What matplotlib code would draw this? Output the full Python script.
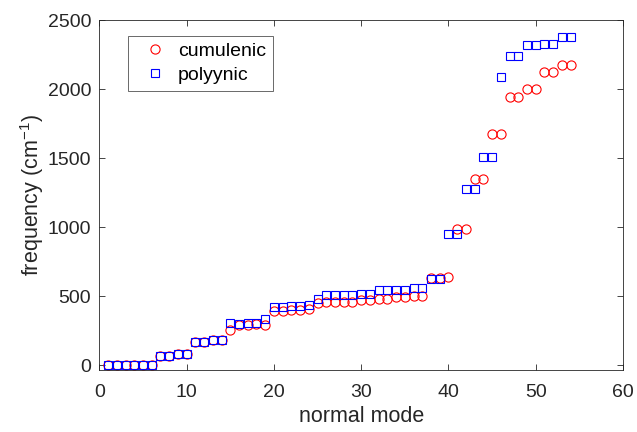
import matplotlib
matplotlib.use("Agg")
import matplotlib.pyplot as plt
import numpy as np

# normal mode index 1..54
modes = np.arange(1, 55)

cumulenic = [0, 0, 0, 0, 0, 0, 65, 65, 80, 80,
             167, 167, 184, 184, 255, 289, 293, 298, 292, 392,
             392, 397, 397, 409, 453, 458, 458, 460, 460, 470,
             470, 482, 482, 494, 494, 501, 501, 634, 634, 640,
             983, 983, 1347, 1347, 1674, 1674, 1940, 1940, 1999, 1999,
             2125, 2125, 2178, 2178]

polyynic = [0, 0, 0, 0, 0, 0, 65, 65, 80, 80,
            167, 167, 184, 184, 305, 298, 307, 307, 332, 422,
            422, 429, 429, 438, 482, 506, 506, 511, 511, 518,
            518, 545, 545, 545, 545, 557, 557, 621, 621, 952,
            952, 1277, 1277, 1507, 1507, 2088, 2238, 2238, 2318, 2318,
            2330, 2330, 2380, 2380]

plt.rcParams['font.family'] = ['Liberation Sans', 'DejaVu Sans']
plt.rcParams['mathtext.default'] = 'regular'
txt = '#262626'

fig = plt.figure(figsize=(6.37, 4.32), dpi=100)
ax = fig.add_axes([0.156, 0.1435, 0.822, 0.81])

ax.plot(modes, cumulenic, 'o', ms=6.6, mfc='none', mec='#ff0000', mew=0.8, label='cumulenic')
ax.plot(modes, polyynic, 's', ms=5.8, mfc='none', mec='#0000ff', mew=0.8, label='polyynic')

ax.set_xlim(0, 60)
ax.set_ylim(-35, 2500)
ax.set_xticks(range(0, 61, 10))
ax.set_yticks(range(0, 2501, 500))
ax.tick_params(direction='in', top=True, right=True, labelsize=14, colors=txt,
               length=4, width=0.6, pad=6)
ax.tick_params(axis='x', pad=10)
for s in ax.spines.values():
    s.set_color(txt)
    s.set_linewidth(0.6)

ax.set_xlabel('normal mode', fontsize=15.5, color=txt, labelpad=4)
ax.set_ylabel('frequency (cm$^{-1}$)', fontsize=15.5, color=txt, labelpad=1)

leg = ax.legend(loc='upper left', bbox_to_anchor=(0.055, 0.955), fontsize=14,
                frameon=True, fancybox=False, edgecolor=txt, markerscale=1.0,
                handletextpad=0.15, borderpad=0.35, labelspacing=0.3, handlelength=2.05,
                borderaxespad=0)
leg.get_frame().set_linewidth(0.6)
for t in leg.get_texts():
    t.set_color('black')

fig.savefig('out.png', dpi=100)
